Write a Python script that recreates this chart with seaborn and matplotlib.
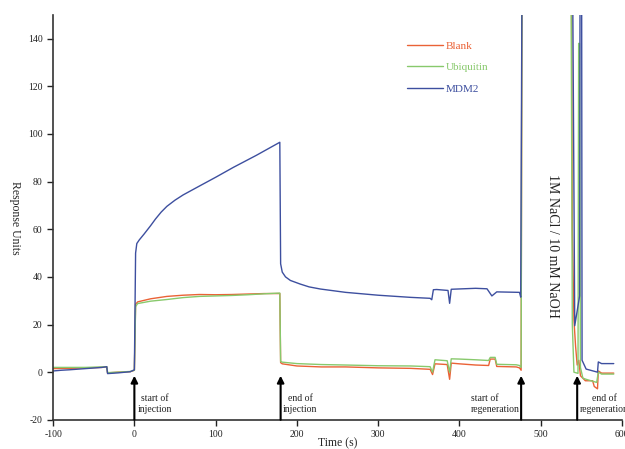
import numpy as np
import pandas as pd
import matplotlib
matplotlib.use("Agg")
import matplotlib.pyplot as plt
import seaborn as sns

# SPR sensorgram, values (time s, response units)
# 160 = off the top of the plot (clipped)
blank = [(-100, 1.5), (-80, 1.6), (-60, 1.8), (-40, 2.0), (-34, 2.2), (-33, -0.3),
         (-20, 0.0), (-5, 0.2), (0, 0.8), (1.5, 28.5), (4, 29.5), (20, 30.8),
         (40, 31.8), (60, 32.3), (80, 32.6), (100, 32.5), (120, 32.6), (140, 32.8),
         (160, 33.0), (179, 33.0), (180, 4.0), (182, 3.5), (200, 2.6), (230, 2.2),
         (260, 2.2), (300, 1.8), (340, 1.6), (364, 1.2), (367, -1.0), (370, 3.5),
         (385, 3.2), (388, -3.0), (390, 3.8), (400, 3.5), (420, 3.0), (436, 2.8),
         (438, 5.5), (444, 5.5), (446, 2.4), (470, 2.2), (474, 1.8), (476, 0.8),
         (477, 160), (538, 160), (539, 60), (541, 22), (543, 11), (545, 3.0),
         (547, 5.0), (549, -1.5), (555, -3.6), (564, -3.6), (566, -6.0), (570, -7.0),
         (571, 0.5), (575, -0.4), (590, -0.4)]

ubiquitin = [(-100, 2.0), (-80, 2.0), (-60, 2.0), (-40, 2.2), (-34, 2.3), (-33, -0.2),
             (-20, 0.0), (-5, 0.3), (0, 0.8), (1.5, 27.5), (4, 28.8), (20, 29.8),
             (40, 30.5), (60, 31.3), (80, 31.8), (100, 32.0), (120, 32.2), (140, 32.5),
             (160, 32.9), (179, 33.2), (180, 4.5), (182, 4.2), (200, 3.6), (230, 3.2),
             (260, 3.0), (300, 2.7), (340, 2.6), (364, 2.3), (367, 0.0), (370, 5.2),
             (385, 4.8), (388, 0.0), (390, 5.6), (400, 5.5), (420, 5.2), (436, 4.9),
             (438, 6.2), (444, 6.2), (446, 3.3), (470, 3.1), (474, 2.8), (476, 2.0),
             (477, 160), (537.5, 160), (539, 20), (541, 0.0), (546, -0.5),
             (546.8, 138), (547.8, 138), (549, 2.0), (552, -2.5), (556, -3.0),
             (569, -4.3), (571, 0.0), (575, -0.8), (590, -0.8)]

mdm2 = [(-100, 0.5), (-90, 0.8), (-80, 1.0), (-60, 1.5), (-40, 2.0), (-34, 2.3),
        (-33, -0.6), (-20, -0.3), (-5, 0.2), (0, 1.0), (1.5, 50), (3, 54),
        (6, 55.5), (12, 58), (20, 61.5), (26, 64.3), (33, 67.2), (40, 69.6),
        (50, 72.2), (60, 74.4), (81, 78.3), (100, 81.8), (122, 86), (150, 91),
        (179, 96.5), (180, 45.5), (182, 42), (186, 40), (192, 38.5), (204, 37),
        (215, 35.8), (229, 34.9), (260, 33.5), (300, 32.3), (340, 31.4), (364, 31.0),
        (366, 30.4), (368, 34.6), (372, 34.7), (386, 34.3), (388, 28.9), (390, 34.8),
        (420, 35.2), (434, 35.0), (440, 32.0), (446, 33.7), (474, 33.5), (475.5, 31.5),
        (477, 160), (539.5, 160), (542, 19.5), (548, 32), (548.5, 160), (550.5, 160),
        (551, 5.0), (556, 1.3), (570, 0.0), (571, 4.3), (575, 3.6), (590, 3.6)]

series_names = ["Blank", "Ubiquitin", "MDM2"]
colors = ["#ea6236", "#88c96c", "#3d4f9f"]

# arrows: (x position, label, text x, alignment, line alignment)
events = [(0, "start of\ninjection", 4, "left", "center"),
          (180, "end of\ninjection", 183, "left", "center"),
          (476, "start of\nregeneration", 474, "right", "left"),
          (545, "end of\nregeneration", 548.5, "left", "center")]

frames = []
for name, pts in zip(series_names, [blank, ubiquitin, mdm2]):
    df = pd.DataFrame(pts, columns=["time", "ru"])
    df["sample"] = name
    frames.append(df)
data = pd.concat(frames, ignore_index=True)

sns.set_style("ticks")
plt.rcParams["font.family"] = ["Liberation Serif", "DejaVu Serif"]
plt.rcParams["axes.unicode_minus"] = False

fig = plt.figure(figsize=(6.25, 4.49), dpi=100)
ax = fig.add_axes([0.085, 0.065, 0.91, 0.902])

sns.lineplot(data=data, x="time", y="ru", hue="sample", hue_order=series_names,
             palette=colors, estimator=None, sort=False, lw=1.0, ax=ax)

ax.set_xlim(-100, 600)
ax.set_ylim(-20, 150)
ax.set_xticks(np.arange(-100, 601, 100))
ax.set_yticks(np.arange(-20, 141, 20))
ax.tick_params(labelsize=7, length=4, width=1, direction="out", colors="#222222")
sns.despine(ax=ax)
for side in ["left", "bottom"]:
    ax.spines[side].set_linewidth(1.2)
    ax.spines[side].set_color("#333333")

ax.set_xlabel("Time (s)", fontsize=8.5)
ax.xaxis.set_label_coords(0.5, -0.042)
ax.set_ylabel("Response Units", fontsize=8.5, rotation=270,
              va="center", ha="center", rotation_mode="default")
ax.yaxis.set_label_coords(-0.067, 0.5)

sns.move_legend(ax, "upper left", bbox_to_anchor=(0.605, 0.96), frameon=False,
                title=None, fontsize=8, handlelength=3.2, handletextpad=0.3,
                labelspacing=1.05, labelcolor="linecolor")

for x, label, tx, ha, malign in events:
    ax.annotate("", xy=(x, -1.5), xytext=(x, -20),
                arrowprops=dict(arrowstyle="-|>", color="black", lw=1.5,
                                mutation_scale=10, shrinkA=0, shrinkB=0))
    ax.text(tx, -13.5, label, ha=ha, va="center", multialignment=malign,
            fontsize=7, color="#222222", linespacing=1.25)

ax.text(515, 53, "1M NaCl / 10 mM NaOH", rotation=270, ha="center", va="center",
        fontsize=10, color="#222222")

fig.savefig("out.png", dpi=100)
